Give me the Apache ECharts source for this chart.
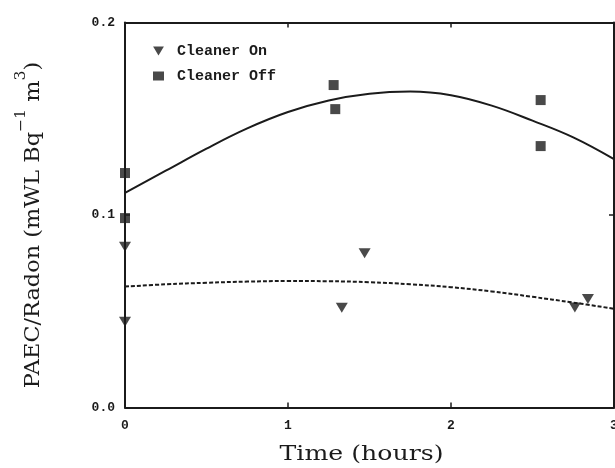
<!DOCTYPE html>
<html>
<head>
<meta charset="utf-8">
<script src="https://cdn.jsdelivr.net/npm/echarts@6/dist/echarts.min.js"></script>
<style>
  html, body { margin: 0; padding: 0; background: #fff; }
  #chart { width: 615px; height: 468px; }
</style>
</head>
<body>
<div id="chart"></div>
<script>
// Measured samples: PAEC/Radon ratio vs time
const hoursOn   = [0, 0, 1.33, 1.47, 2.76, 2.84];
const ratioOn   = [0.0835, 0.0446, 0.0518, 0.0801, 0.052, 0.0564];
const hoursOff  = [0, 0, 1.28, 1.29, 2.55, 2.55];
const ratioOff  = [0.1218, 0.0984, 0.1675, 0.155, 0.1597, 0.1358];

// Fitted trend curves, sampled along the time axis
const fitHours  = [0, 0.25, 0.5, 0.75, 1.0, 1.25, 1.5, 1.75, 2.0, 2.25, 2.5, 2.75, 3.0];
const fitOff    = [0.1115, 0.123, 0.1345, 0.145, 0.1535, 0.1595, 0.163, 0.1641, 0.1622, 0.1568, 0.149, 0.1403, 0.129];
const fitOn     = [0.0628, 0.064, 0.0648, 0.0654, 0.0657, 0.0656, 0.0651, 0.064, 0.0625, 0.0603, 0.0575, 0.0545, 0.0513];

const xTicks = [0, 1, 2, 3];
const yTicks = [0.0, 0.1, 0.2];

const ink = '#1b1b1b';
const monoBold = { fontFamily: 'Liberation Mono', fontWeight: 'bold', color: ink };
const downTriangle = 'path://M0,0 L12,0 L6,10 Z';

const pairs = (xs, ys) => xs.map((x, i) => [x, ys[i]]);

const frameAxis = {
  axisLine: { show: true, onZero: false, lineStyle: { color: ink, width: 2 } },
  axisTick: { show: true, inside: true, length: 5, lineStyle: { color: ink, width: 1.5 } },
  splitLine: { show: false }
};

const chart = echarts.init(document.getElementById('chart'));
chart.setOption({
  backgroundColor: '#ffffff',
  animation: false,
  grid: { left: 125, right: 1, top: 22.5, bottom: 60.5, containLabel: false, outerBoundsMode: 'none' },
  legend: {
    left: 153, top: 43.5, orient: 'vertical', padding: 0,
    itemWidth: 11, itemHeight: 9, itemGap: 10,
    textStyle: Object.assign({ fontSize: 15, padding: [0, 0, 0, 8] }, monoBold),
    data: [
      { name: 'Cleaner On', icon: downTriangle },
      { name: 'Cleaner Off', icon: 'rect' }
    ]
  },
  graphic: [
    {
      type: 'text', x: 361.5, y: 455, scaleX: 1.26,
      style: {
        text: 'Time (hours)', fill: ink,
        font: '20px "DejaVu Serif"', align: 'center', verticalAlign: 'middle'
      }
    },
    {
      type: 'text', x: 29, y: 225, rotation: Math.PI / 2, scaleX: 1.12,
      style: {
        text: '{m|PAEC/Radon (mWL Bq}{s|\u22121}{m| m}{s|3}{m|)}',
        align: 'center', verticalAlign: 'middle',
        rich: {
          m: { fontFamily: 'DejaVu Serif', fontSize: 20, fill: ink, lineHeight: 30, verticalAlign: 'bottom' },
          s: { fontFamily: 'DejaVu Serif', fontSize: 14, fill: ink, lineHeight: 30, verticalAlign: 'top' }
        }
      }
    }
  ],
  xAxis: [
    Object.assign({
      type: 'value', min: 0, max: 3, interval: 1,
      axisLabel: Object.assign({
        fontSize: 13, margin: 12,
        formatter: v => xTicks.includes(v) ? String(v) : ''
      }, monoBold)
    }, frameAxis),
    Object.assign({
      type: 'value', position: 'top', min: 0, max: 3, interval: 1,
      axisLabel: { show: false }
    }, frameAxis)
  ],
  yAxis: [
    Object.assign({
      type: 'value', min: 0, max: 0.2, interval: 0.1,
      axisLabel: Object.assign({
        fontSize: 13, margin: 10,
        formatter: v => yTicks.some(t => Math.abs(t - v) < 1e-9) ? v.toFixed(1) : ''
      }, monoBold)
    }, frameAxis),
    Object.assign({
      type: 'value', position: 'right', min: 0, max: 0.2, interval: 0.1,
      axisLabel: { show: false }
    }, frameAxis)
  ],
  series: [
    {
      name: 'Cleaner On', type: 'scatter',
      symbol: downTriangle, symbolSize: [12, 10],
      itemStyle: { color: ink },
      data: pairs(hoursOn, ratioOn), z: 5
    },
    {
      name: 'Cleaner Off', type: 'scatter',
      symbol: 'rect', symbolSize: 10,
      itemStyle: { color: ink },
      data: pairs(hoursOff, ratioOff), z: 5
    },
    {
      name: 'Fit Off', type: 'line', smooth: 0.4, showSymbol: false,
      lineStyle: { color: ink, width: 2 },
      data: pairs(fitHours, fitOff), z: 3
    },
    {
      name: 'Fit On', type: 'line', smooth: 0.4, showSymbol: false,
      lineStyle: { color: ink, width: 2, type: [4, 2] },
      data: pairs(fitHours, fitOn), z: 3
    }
  ]
});
</script>
</body>
</html>
